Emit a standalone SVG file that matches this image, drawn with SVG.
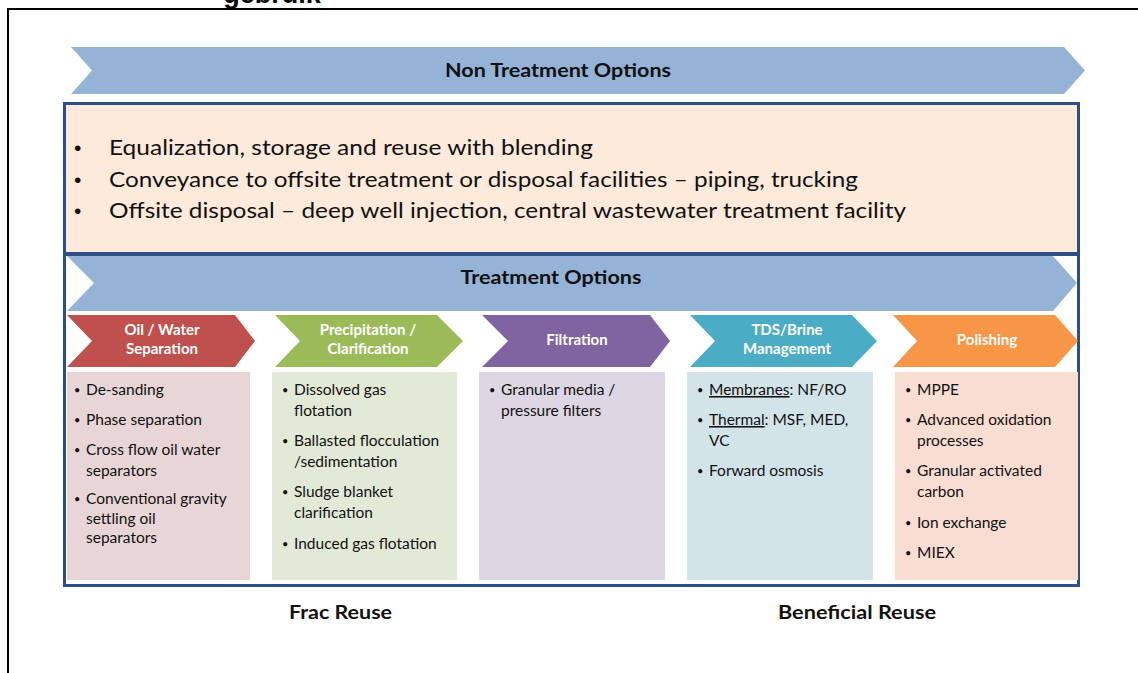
<svg xmlns="http://www.w3.org/2000/svg" width="1138" height="673" viewBox="0 0 1138 673">
<style>
.frame{fill:none;stroke:#000;stroke-width:2}
.big{fill:#95B3D7}
.hdr{font-family:Lato,"Liberation Sans",sans-serif;font-weight:bold;fill:#111;text-anchor:middle}
.nt{font-family:Lato,"Liberation Sans",sans-serif;font-size:22px;fill:#111}
.nb{font-family:"Liberation Sans",sans-serif;font-size:21px;fill:#111}
.ch{font-family:Lato,"Liberation Sans",sans-serif;font-weight:bold;font-size:15px;fill:#fff;text-anchor:middle}
.bx{font-family:Lato,"Liberation Sans",sans-serif;font-size:15.5px;fill:#111}
.bl{font-family:Lato,"Liberation Sans",sans-serif;font-size:11px;fill:#111}
.ft{font-family:Lato,"Liberation Sans",sans-serif;font-weight:bold;font-size:18px;fill:#111}
.outline{stroke:#2C4F85;stroke-width:3}
</style>
<rect width="1138" height="673" fill="#fff"/>
<text x="272" y="3" font-family="Liberation Sans, Arial, sans-serif" font-weight="bold" font-size="27" text-anchor="middle" fill="#000">gebruik</text>
<path class="frame" d="M8,673 V9 H1138"/>

<g id="non-treatment">
<polygon class="big" points="71,47 1064,47 1085,70.5 1064,94 71,94 92,70.5"/>
<text class="hdr" x="558" y="77" font-size="18" textLength="226" lengthAdjust="spacingAndGlyphs">Non Treatment Options</text>
</g>

<g id="non-treatment-list">
<rect class="outline" x="64.5" y="103.5" width="1014" height="150" fill="#FDEADA"/>
<text class="nb" x="74" y="155">•</text><text class="nt" x="109" y="155" textLength="484" lengthAdjust="spacingAndGlyphs">Equalization, storage and reuse with blending</text>
<text class="nb" x="74" y="187">•</text><text class="nt" x="109" y="187" textLength="749" lengthAdjust="spacingAndGlyphs">Conveyance to offsite treatment or disposal facilities – piping, trucking</text>
<text class="nb" x="74" y="218">•</text><text class="nt" x="109" y="218" textLength="797" lengthAdjust="spacingAndGlyphs">Offsite disposal – deep well injection, central wastewater treatment facility</text>
</g>

<g id="treatment">
<rect class="outline" x="64.5" y="254.5" width="1014" height="331" fill="#fff"/>
<polygon class="big" points="67,256 1053,256 1077,283 1053,311 67,311 94,283"/>
<text class="hdr" x="551" y="284" font-size="18" textLength="181" lengthAdjust="spacingAndGlyphs">Treatment Options</text>
</g>

<g id="oil-water">
<polygon points="67,315 235,315 255,341 235,367 67,367 92,341" fill="#C0504D"/>
<text class="ch" x="162" y="335">Oil / Water</text>
<text class="ch" x="162" y="354">Separation</text>
<rect x="67" y="372" width="183" height="208" fill="#E8D6D7"/>
<g class="bx">
<text class="bl" x="74" y="394">•</text><text x="86" y="395">De-sanding</text>
<text class="bl" x="74" y="424">•</text><text x="86" y="425">Phase separation</text>
<text class="bl" x="74" y="454">•</text><text x="86" y="455">Cross flow oil water</text>
<text x="86" y="476">separators</text>
<text class="bl" x="74" y="503">•</text><text x="86" y="504">Conventional gravity</text>
<text x="86" y="524">settling oil</text>
<text x="86" y="543">separators</text>
</g>
</g>

<g id="precipitation">
<polygon points="275,315 437,315 463,341 437,367 275,367 300,341" fill="#9BBB59"/>
<text class="ch" x="368" y="335">Precipitation /</text>
<text class="ch" x="368" y="354">Clarification</text>
<rect x="272" y="372" width="185" height="208" fill="#E2E9D7"/>
<g class="bx">
<text class="bl" x="282" y="394">•</text><text x="294" y="395">Dissolved gas</text>
<text x="294" y="416">flotation</text>
<text class="bl" x="282" y="445">•</text><text x="294" y="446">Ballasted flocculation</text>
<text x="294" y="467">/sedimentation</text>
<text class="bl" x="282" y="496">•</text><text x="294" y="497">Sludge blanket</text>
<text x="294" y="518">clarification</text>
<text class="bl" x="282" y="548">•</text><text x="294" y="549">Induced gas flotation</text>
</g>
</g>

<g id="filtration">
<polygon points="482,315 650,315 670,341 650,367 482,367 508,341" fill="#8064A2"/>
<text class="ch" x="577" y="345">Filtration</text>
<rect x="479" y="372" width="186" height="208" fill="#DCD7E2"/>
<g class="bx">
<text class="bl" x="489" y="394">•</text><text x="501" y="395">Granular media /</text>
<text x="501" y="416">pressure filters</text>
</g>
</g>

<g id="tds-brine">
<polygon points="690,315 852,315 877,341 852,367 690,367 715,341" fill="#4BACC6"/>
<text class="ch" x="787" y="335">TDS/Brine</text>
<text class="ch" x="787" y="354">Management</text>
<rect x="687" y="372" width="186" height="208" fill="#D3E4E9"/>
<g class="bx">
<text class="bl" x="697" y="394">•</text><text x="709" y="395"><tspan text-decoration="underline">Membranes</tspan>: NF/RO</text>
<text class="bl" x="697" y="424">•</text><text x="709" y="425"><tspan text-decoration="underline">Thermal</tspan>: MSF, MED,</text>
<text x="709" y="446">VC</text>
<text class="bl" x="697" y="475">•</text><text x="709" y="476">Forward osmosis</text>
</g>
</g>

<g id="polishing">
<polygon points="893,315 1055,315 1078,341 1055,367 893,367 917,341" fill="#F79646"/>
<text class="ch" x="987" y="345">Polishing</text>
<rect x="895" y="372" width="183" height="208" fill="#F9DDD3"/>
<g class="bx">
<text class="bl" x="905" y="394">•</text><text x="917" y="395">MPPE</text>
<text class="bl" x="905" y="424">•</text><text x="917" y="425">Advanced oxidation</text>
<text x="917" y="446">processes</text>
<text class="bl" x="905" y="475">•</text><text x="917" y="476">Granular activated</text>
<text x="917" y="497">carbon</text>
<text class="bl" x="905" y="527">•</text><text x="917" y="528">Ion exchange</text>
<text class="bl" x="905" y="557">•</text><text x="917" y="558">MIEX</text>
</g>
</g>

<g id="labels">
<text class="ft" x="289" y="619" textLength="103" lengthAdjust="spacingAndGlyphs">Frac Reuse</text>
<text class="ft" x="778" y="619" textLength="158" lengthAdjust="spacingAndGlyphs">Beneficial Reuse</text>
</g>
<g id="connectors"></g>
</svg>
